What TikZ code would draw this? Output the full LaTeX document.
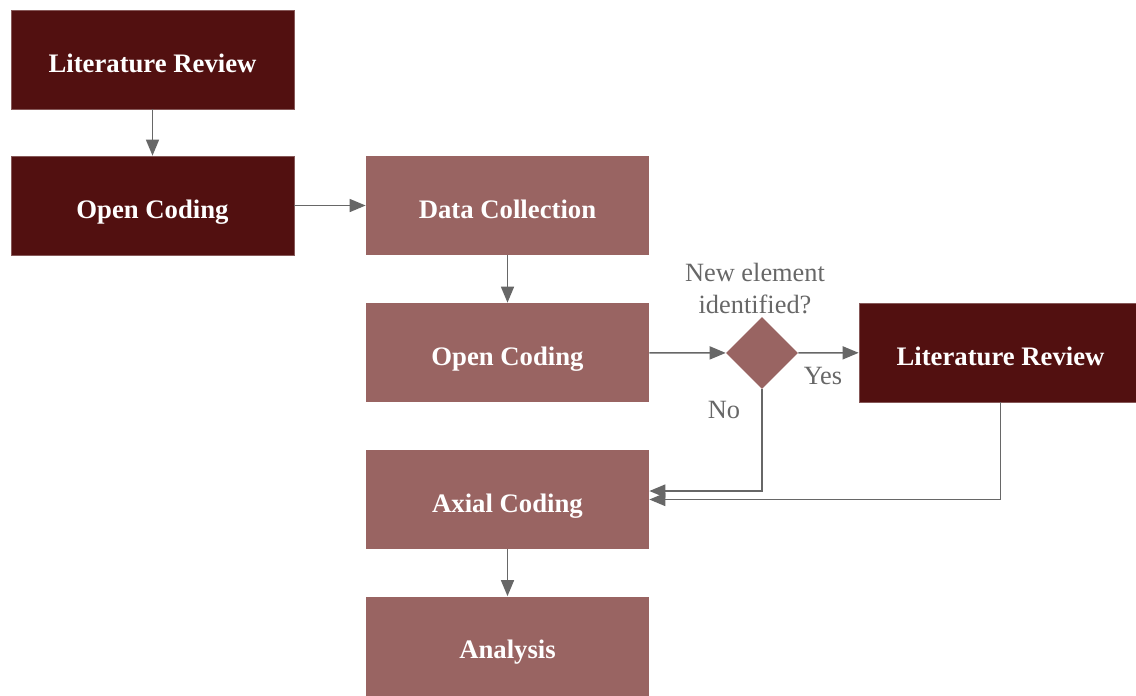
\documentclass[tikz,border=0pt]{standalone}
\usepackage{fontspec}
\setmainfont{Liberation Serif}
\usepackage{tikz}
\usetikzlibrary{arrows.meta,shapes.geometric}
\definecolor{darkred}{HTML}{521010}
\definecolor{lightred}{HTML}{996462}
\definecolor{linegray}{HTML}{676767}
\tikzstyle{step box}=[rectangle,minimum width=5.66cm,minimum height=1.98cm,inner sep=0pt,text height=0.5cm,text depth=0pt,text=white,font=\fontsize{15.2}{18}\selectfont\bfseries]
\tikzstyle{dark box} = [step box, fill=darkred, draw=darkred!70!white, line width=0.4pt]
\tikzstyle{light box} = [step box, fill=lightred]
\tikzstyle{decision} = [diamond,aspect=1,fill=lightred,minimum width=1.44cm,minimum height=1.44cm,inner sep=0pt]
\tikzstyle{arrow} = [draw,linegray,line width=0.85pt,-{Triangle[length=0.32cm,width=0.26cm]}]
\tikzstyle{label} = [text=linegray,font=\fontsize{15}{18}\selectfont,align=center]

\begin{document}
\begin{tikzpicture}
    \useasboundingbox (0,0) rectangle (22.72,-13.9);
    \foreach \pos/\name/\text in {{(3.05,-1.19)/lit/Literature Review}, {(3.05,-4.11)/open/Open Coding}, {(20.01,-7.05)/littwo/Literature Review}}
        \node[dark box] (\name) at \pos {\text};
    \foreach \pos/\name/\text in {{(10.15,-4.11)/data/Data Collection}, {(10.15,-7.05)/opentwo/Open Coding}, {(10.15,-9.99)/axial/Axial Coding}, {(10.15,-12.92)/analysis/Analysis}}
        \node[light box] (\name) at \pos {\text};
    \node[decision] (decide) at (15.24,-7.06) {};
    \node[label] (question) at (15.1,-5.77) {New element\\identified?};
    \node[label] (yes) at (16.46,-7.52) {Yes};
    \node[label] (no) at (14.48,-8.2) {No};
    \foreach \source/ \dest in {lit/open, data/opentwo, axial/analysis}
        \path[arrow] (\source) -- (\dest);
    \foreach \source/ \dest in {open/data, opentwo/decide, decide/littwo}
        \path[arrow] (\source) -- (\dest);
    \path[arrow] (decide.south) |- ([yshift=0.17cm]axial.east);
    \path[arrow] (littwo.south) |- (axial.east);
\end{tikzpicture}
\end{document}
